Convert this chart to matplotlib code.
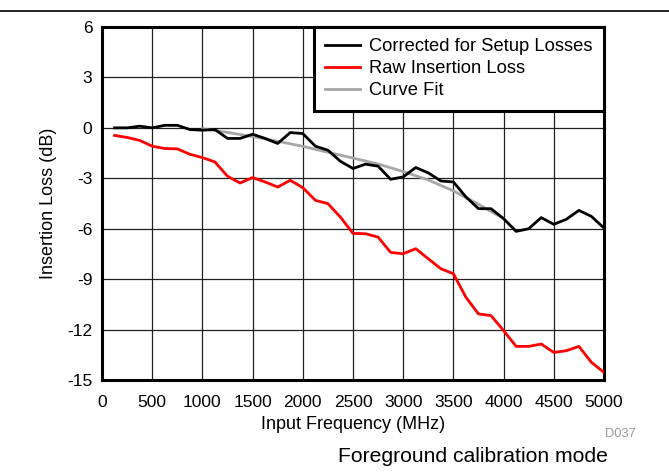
"""Insertion loss vs. input frequency, foreground calibration mode."""

import matplotlib

matplotlib.use("Agg")
import matplotlib.pyplot as plt
from matplotlib.lines import Line2D


freq_mhz = [
    125, 250, 375, 500, 625, 750, 875, 1000, 1125, 1250,
    1375, 1500, 1625, 1750, 1875, 2000, 2125, 2250, 2375, 2500,
    2625, 2750, 2875, 3000, 3125, 3250, 3375, 3500, 3625, 3750,
    3875, 4000, 4125, 4250, 4375, 4500, 4625, 4750, 4875, 5000,
]

corrected_db = [
    0.0, 0.0, 0.1, 0.0, 0.15, 0.15, -0.1, -0.14, -0.1, -0.63,
    -0.63, -0.38, -0.63, -0.93, -0.28, -0.34, -1.09, -1.33, -1.99, -2.42,
    -2.16, -2.28, -3.06, -2.92, -2.36, -2.68, -3.16, -3.22, -4.11, -4.81,
    -4.81, -5.40, -6.16, -6.0, -5.34, -5.74, -5.44, -4.91, -5.27, -5.96,
]

raw_db = [
    -0.45, -0.57, -0.75, -1.09, -1.23, -1.25, -1.57, -1.77, -2.03, -2.88,
    -3.28, -2.96, -3.22, -3.52, -3.12, -3.56, -4.31, -4.51, -5.31, -6.28,
    -6.30, -6.50, -7.41, -7.49, -7.19, -7.79, -8.38, -8.68, -10.08, -11.07,
    -11.17, -12.06, -13.0, -13.0, -12.86, -13.36, -13.26, -13.0, -13.95, -14.55,
]

fit_freq_mhz = [1000, 1250, 1500, 1750, 2000, 2250, 2500, 2750, 3000, 3250, 3500, 3750, 4000]
fit_db = [-0.05, -0.27, -0.52, -0.8, -1.1, -1.45, -1.8, -2.15, -2.6, -3.1, -3.75, -4.55, -5.4]

x_ticks = [0, 500, 1000, 1500, 2000, 2500, 3000, 3500, 4000, 4500, 5000]
y_ticks = [6, 3, 0, -3, -6, -9, -12, -15]

series_names = ["Corrected for Setup Losses", "Raw Insertion Loss", "Curve Fit"]
series_colors = ["black", "#ff0000", "#a6a6a6"]


def main() -> None:
    plt.rcParams["font.family"] = ["Liberation Sans", "DejaVu Sans"]
    plt.rcParams["axes.unicode_minus"] = False

    fig = plt.figure(figsize=(6.69, 4.76), dpi=100)
    ax = fig.add_axes([0.1525, 0.2017, 0.7503, 0.7416])

    ax.plot(fit_freq_mhz, fit_db, color=series_colors[2], linewidth=2, zorder=3)
    ax.plot(freq_mhz, raw_db, color=series_colors[1], linewidth=2, zorder=4)
    ax.plot(freq_mhz, corrected_db, color=series_colors[0], linewidth=2, zorder=5)

    ax.set_xlim(0, 5000)
    ax.set_ylim(-15, 6)
    ax.set_xticks(x_ticks)
    ax.set_yticks(y_ticks)
    ax.tick_params(axis="both", length=0, labelsize=12.5)
    ax.tick_params(axis="x", pad=11)
    ax.tick_params(axis="y", pad=7)
    ax.grid(True, color="#202020", linewidth=0.9)
    ax.set_axisbelow(True)
    for spine in ax.spines.values():
        spine.set_linewidth(2.2)

    ax.set_xlabel("Input Frequency (MHz)", fontsize=13, labelpad=4)
    ax.set_ylabel("Insertion Loss (dB)", fontsize=13, labelpad=7)

    handles = [Line2D([], [], color=c, linewidth=2) for c in series_colors]
    leg = ax.legend(
        handles,
        series_names,
        loc="upper right",
        borderaxespad=0,
        fancybox=False,
        framealpha=1,
        fontsize=13.2,
        handlelength=1.9,
        handletextpad=0.5,
        labelspacing=0.27,
        borderpad=0.62,
    )
    leg.get_frame().set_edgecolor("black")
    leg.get_frame().set_linewidth(2.2)
    leg.set_zorder(10)

    fig.add_artist(Line2D([0, 1], [1 - 11 / 476, 1 - 11 / 476], color="black", linewidth=1.2))
    fig.text(636 / 669, 1 - 434 / 476, "D037", fontsize=9.3, color="#999999", ha="right", va="center")
    fig.text(608 / 669, 1 - 456 / 476, "Foreground calibration mode", fontsize=15.2, ha="right", va="center")

    fig.savefig("out.png", dpi=100)
    plt.close(fig)


if __name__ == "__main__":
    main()
